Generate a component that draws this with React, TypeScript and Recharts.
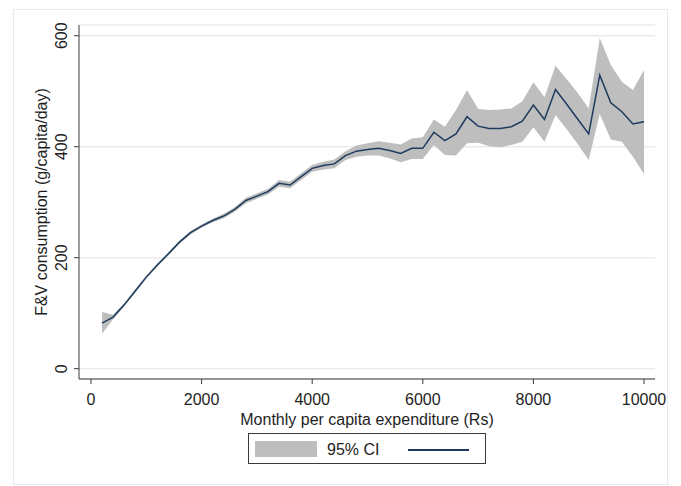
import React from "react";
import {
  Area,
  CartesianGrid,
  ComposedChart,
  Label,
  Legend,
  Line,
  XAxis,
  YAxis,
} from "recharts";

// monthly per capita expenditure (Rs)
const mpce = [
  200, 400, 600, 800, 1000, 1200, 1400, 1600, 1800, 2000,
  2200, 2400, 2600, 2800, 3000, 3200, 3400, 3600, 3800, 4000,
  4200, 4400, 4600, 4800, 5000, 5200, 5400, 5600, 5800, 6000,
  6200, 6400, 6600, 6800, 7000, 7200, 7400, 7600, 7800, 8000,
  8200, 8400, 8600, 8800, 9000, 9200, 9400, 9600, 9800, 10000,
];

// F&V consumption (g/capita/day)
const fv = [
  82, 93, 115, 140, 165, 187, 207, 228, 245, 257,
  267, 275, 287, 303, 311, 319, 334, 331, 346, 361,
  366, 369, 384, 392, 395, 397, 393, 388, 397, 397,
  426, 411, 423, 454, 437, 433, 433, 436, 446, 475,
  449, 503, 477, 450, 423, 529, 479, 463, 441, 445,
];

const ciLow = [
  63, 89, 112, 137, 162, 184, 204, 225, 242, 254,
  264, 271, 283, 298, 306, 314, 328, 325, 340, 355,
  359, 361, 376, 382, 384, 384, 379, 372, 378, 378,
  403, 385, 384, 406, 407, 401, 399, 403, 409, 435,
  409, 457, 432, 405, 376, 459, 413, 409, 382, 351,
];

const ciHigh = [
  102, 97, 118, 143, 168, 190, 210, 231, 248, 260,
  270, 279, 291, 308, 316, 324, 340, 337, 352, 367,
  373, 377, 392, 402, 406, 410, 407, 404, 415, 417,
  449, 436, 466, 502, 468, 466, 467, 469, 482, 516,
  489, 546, 522, 497, 469, 596, 547, 517, 502, 538,
];

const xTicks = [0, 2000, 4000, 6000, 8000, 10000];
const yTicks = [0, 200, 400, 600];

const rows = mpce.map((x, i) => ({
  x,
  fv: fv[i],
  ci: [ciLow[i], ciHigh[i]],
}));

const FONT = "'Liberation Sans', Arial, sans-serif";
const INK = "#1e1e1e";
const NAVY = "#1f3a5f";
const BAND = "#bebebe";

function YTick(props: any) {
  const { x, y, payload } = props;
  const bx = x - 5;
  return (
    <text
      x={bx}
      y={y}
      transform={`rotate(-90, ${bx}, ${y})`}
      textAnchor="middle"
      fontSize={16}
      fontFamily={FONT}
      fill={INK}
    >
      {payload.value}
    </text>
  );
}

function LegendBox() {
  return (
    <div
      style={{
        position: "relative",
        width: 238,
        height: 31,
        border: "1px solid #3a3a3a",
        boxSizing: "border-box",
        background: "#fff",
        fontFamily: FONT,
      }}
    >
      <div style={{ position: "absolute", left: 6, top: 7, width: 62, height: 16, background: BAND }} />
      <div style={{ position: "absolute", left: 78, top: 7, fontSize: 16, color: INK, lineHeight: "18px" }}>
        95% CI
      </div>
      <div style={{ position: "absolute", left: 159, top: 15, width: 61, height: 1.5, background: NAVY }} />
    </div>
  );
}

export default function App() {
  return (
    <div style={{ position: "absolute", left: 0, top: 0, width: 681, height: 486, background: "#fff" }}>
      <div
        style={{
          position: "absolute",
          left: 13,
          top: 9,
          width: 655,
          height: 476,
          border: "1px solid #e2eaee",
          boxSizing: "border-box",
        }}
      />
      <ComposedChart
        width={681}
        height={486}
        data={rows}
        margin={{ top: 25, right: 26, bottom: 57, left: 0 }}
      >
        <CartesianGrid vertical={false} stroke="#ebebeb" strokeWidth={1.5} />
        <XAxis
          dataKey="x"
          type="number"
          domain={[-217, 10199]}
          ticks={xTicks}
          allowDataOverflow
          height={50}
          stroke="#3a3a3a"
          tickSize={5}
          tickMargin={10}
          tick={{ fontSize: 16, fontFamily: FONT, fill: INK }}
        >
          <Label
            value="Monthly per capita expenditure (Rs)"
            position="insideBottom"
            offset={4}
            style={{ fontSize: 16, fontFamily: FONT, fill: INK }}
          />
        </XAxis>
        <YAxis
          type="number"
          domain={[-18.6, 619.3]}
          ticks={yTicks}
          allowDataOverflow
          width={79}
          stroke="#3a3a3a"
          tickSize={5}
          tick={<YTick />}
        >
          <Label
            value="F&V consumption (g/capita/day)"
            angle={-90}
            position="insideLeft"
            offset={41}
            style={{ fontSize: 16, fontFamily: FONT, fill: INK, textAnchor: "middle" }}
          />
        </YAxis>
        <Area
          dataKey="ci"
          type="linear"
          stroke="none"
          fill={BAND}
          fillOpacity={1}
          isAnimationActive={false}
        />
        <Line
          dataKey="fv"
          type="linear"
          stroke={NAVY}
          strokeWidth={1.5}
          dot={false}
          isAnimationActive={false}
        />
        <Legend
          layout="horizontal"
          verticalAlign="middle"
          align="center"
          wrapperStyle={{ left: 248, top: 433, width: 238, height: 31 }}
          content={() => <LegendBox />}
        />
      </ComposedChart>
    </div>
  );
}
